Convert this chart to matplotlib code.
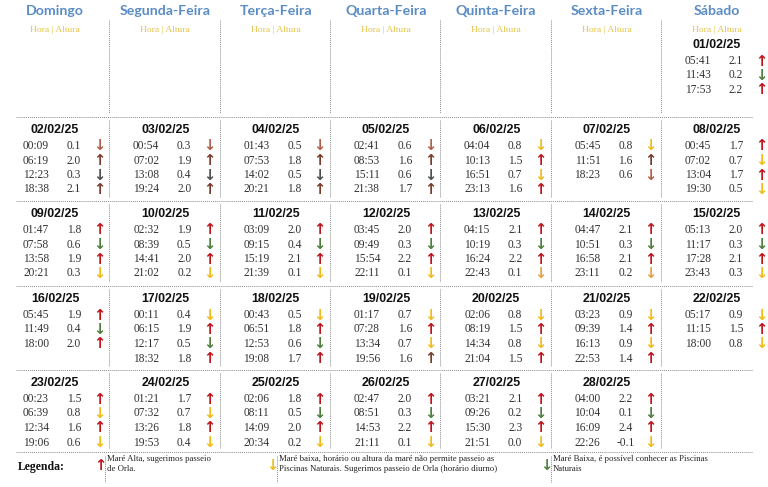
import matplotlib
matplotlib.use("Agg")
import matplotlib.pyplot as plt

# ---------------- data ----------------
weekdays = ["Domingo", "Segunda-Feira", "Terça-Feira", "Quarta-Feira",
            "Quinta-Feira", "Sexta-Feira", "Sábado"]

days = list(range(1, 29))
dates = ["%02d/02/25" % d for d in days]

times = [
    ["05:41", "11:43", "17:53"],
    ["00:09", "06:19", "12:23", "18:38"],
    ["00:54", "07:02", "13:08", "19:24"],
    ["01:43", "07:53", "14:02", "20:21"],
    ["02:41", "08:53", "15:11", "21:38"],
    ["04:04", "10:13", "16:51", "23:13"],
    ["05:45", "11:51", "18:23"],
    ["00:45", "07:02", "13:04", "19:30"],
    ["01:47", "07:58", "13:58", "20:21"],
    ["02:32", "08:39", "14:41", "21:02"],
    ["03:09", "09:15", "15:19", "21:39"],
    ["03:45", "09:49", "15:54", "22:11"],
    ["04:15", "10:19", "16:24", "22:43"],
    ["04:47", "10:51", "16:58", "23:11"],
    ["05:13", "11:17", "17:28", "23:43"],
    ["05:45", "11:49", "18:00"],
    ["00:11", "06:15", "12:17", "18:32"],
    ["00:43", "06:51", "12:53", "19:08"],
    ["01:17", "07:28", "13:34", "19:56"],
    ["02:06", "08:19", "14:34", "21:04"],
    ["03:23", "09:39", "16:13", "22:53"],
    ["05:17", "11:15", "18:00"],
    ["00:23", "06:39", "12:34", "19:06"],
    ["01:21", "07:32", "13:26", "19:53"],
    ["02:06", "08:11", "14:09", "20:34"],
    ["02:47", "08:51", "14:53", "21:11"],
    ["03:21", "09:26", "15:30", "21:51"],
    ["04:00", "10:04", "16:09", "22:26"],
]

heights = [
    [2.1, 0.2, 2.2],
    [0.1, 2.0, 0.3, 2.1],
    [0.3, 1.9, 0.4, 2.0],
    [0.5, 1.8, 0.5, 1.8],
    [0.6, 1.6, 0.6, 1.7],
    [0.8, 1.5, 0.7, 1.6],
    [0.8, 1.6, 0.6],
    [1.7, 0.7, 1.7, 0.5],
    [1.8, 0.6, 1.9, 0.3],
    [1.9, 0.5, 2.0, 0.2],
    [2.0, 0.4, 2.1, 0.1],
    [2.0, 0.3, 2.2, 0.1],
    [2.1, 0.3, 2.2, 0.1],
    [2.1, 0.3, 2.1, 0.2],
    [2.0, 0.3, 2.1, 0.3],
    [1.9, 0.4, 2.0],
    [0.4, 1.9, 0.5, 1.8],
    [0.5, 1.8, 0.6, 1.7],
    [0.7, 1.6, 0.7, 1.6],
    [0.8, 1.5, 0.8, 1.5],
    [0.9, 1.4, 0.9, 1.4],
    [0.9, 1.5, 0.8],
    [1.5, 0.8, 1.6, 0.6],
    [1.7, 0.7, 1.8, 0.4],
    [1.8, 0.5, 2.0, 0.2],
    [2.0, 0.3, 2.2, 0.1],
    [2.1, 0.2, 2.3, 0.0],
    [2.2, 0.1, 2.4, -0.1],
]

# tide type codes: R = high (red up), Y = low yellow, G = low green,
# U = muted up, D = muted reddish down, K = dark down, O = orange down
tide_types = [
    "RGR", "DUKU", "DUKU", "DUKU", "DUKU", "YRYR", "YUD", "RYRY",
    "RGRY", "RGRY", "RGRY", "RGRY", "RGRO", "RGRO", "RGRY",
    "RGR", "YRGR", "YRGR", "YRYU", "YRYR", "YRYR", "YRY",
    "RYRY", "RYRY", "RGRY", "RGRY", "RGRY", "RGRY",
]

legend_texts = [
    "Maré Alta, sugerimos passeio\nde Orla.",
    "Maré baixa, horário ou altura da maré não permite passeio as\n"
    "Piscinas Naturais. Sugerimos passeio de Orla (horário diurno)",
    "Maré Baixa, é possível conhecer as Piscinas\nNaturais",
]
legend_types = ["R", "Y", "G"]

# ---------------- style ----------------
arrow_glyph = {"R": "↑", "U": "↑", "Y": "↓", "G": "↓", "D": "↓", "K": "↓", "O": "↓"}
arrow_color = {"R": "#c0141c", "U": "#7a3a2c", "Y": "#f0bc1c", "G": "#4f7f3f",
               "D": "#b0604a", "K": "#505050", "O": "#e8a040"}

W, H = 768, 487
fig = plt.figure(figsize=(W / 100, H / 100), dpi=100)
ax = fig.add_axes([0, 0, 1, 1])
ax.set_xlim(0, W)
ax.set_ylim(H, 0)
ax.axis("off")

col_w = 110.3
row_tops = [32, 117, 201, 286, 370]
line_col = "#8a8a8a"
dot = (0, (1, 1))

# headers
for c, name in enumerate(weekdays):
    x0 = c * col_w
    ax.text(x0 + 55, 11, name, ha="center", va="center", fontsize=10.2,
            fontweight="bold", family="Lato", color="#5b8cc4")
    ax.text(x0 + 55, 30, "Hora | Altura", ha="center", va="center",
            fontsize=6.8, family="Liberation Serif", color="#e6c44a")

# horizontal dotted lines
for y in [117, 201, 286, 370, 452]:
    ax.plot([16, 752], [y, y], color=line_col, lw=0.7, ls=dot)

# vertical dotted separators
for c in range(1, 7):
    x = c * col_w - 1
    ax.plot([x, x], [20, 113], color=line_col, lw=0.7, ls=dot)
    for r in range(1, 5):
        ax.plot([x, x], [row_tops[r] + 3, (row_tops[r + 1] if r < 4 else 452) - 4],
                color=line_col, lw=0.7, ls=dot)

# day cells
for i, d in enumerate(days):
    cell = d + 5
    r, c = cell // 7, cell % 7
    x0 = c * col_w
    top = row_tops[r]
    ax.text(x0 + 55, top + 13, dates[i], ha="center", va="center",
            fontsize=8.9, fontweight="bold", family="Liberation Sans", color="#111111")
    for k, (t, h, tt) in enumerate(zip(times[i], heights[i], tide_types[i])):
        y = top + 29 + k * 14.5
        ax.text(x0 + 36, y, t, ha="center", va="center", fontsize=8.3,
                family="Liberation Serif", color="#333333")
        ax.text(x0 + 74, y, "%.1f" % h, ha="center", va="center", fontsize=8.3,
                family="Liberation Serif", color="#333333")
        ax.text(x0 + 99, y, arrow_glyph[tt], ha="center", va="center", fontsize=10.5,
                fontweight="bold", family="DejaVu Sans", color=arrow_color[tt])

# legend
ax.text(18, 467, "Legenda:", ha="left", va="center", fontsize=8.5,
        fontweight="bold", family="Liberation Serif", color="#111111")
leg_x = [100, 272, 546]
for lx, txt, tt in zip(leg_x, legend_texts, legend_types):
    ax.text(lx, 466, arrow_glyph[tt], ha="center", va="center", fontsize=10.5,
            fontweight="bold", family="DejaVu Sans", color=arrow_color[tt])
    ax.plot([lx + 5, lx + 5], [456, 482], color=line_col, lw=0.7, ls=dot)
    ax.text(lx + 7, 464, txt, ha="left", va="center", fontsize=6.3,
            family="Liberation Serif", color="#222222", linespacing=1.45)

fig.savefig("out.png", dpi=100)
